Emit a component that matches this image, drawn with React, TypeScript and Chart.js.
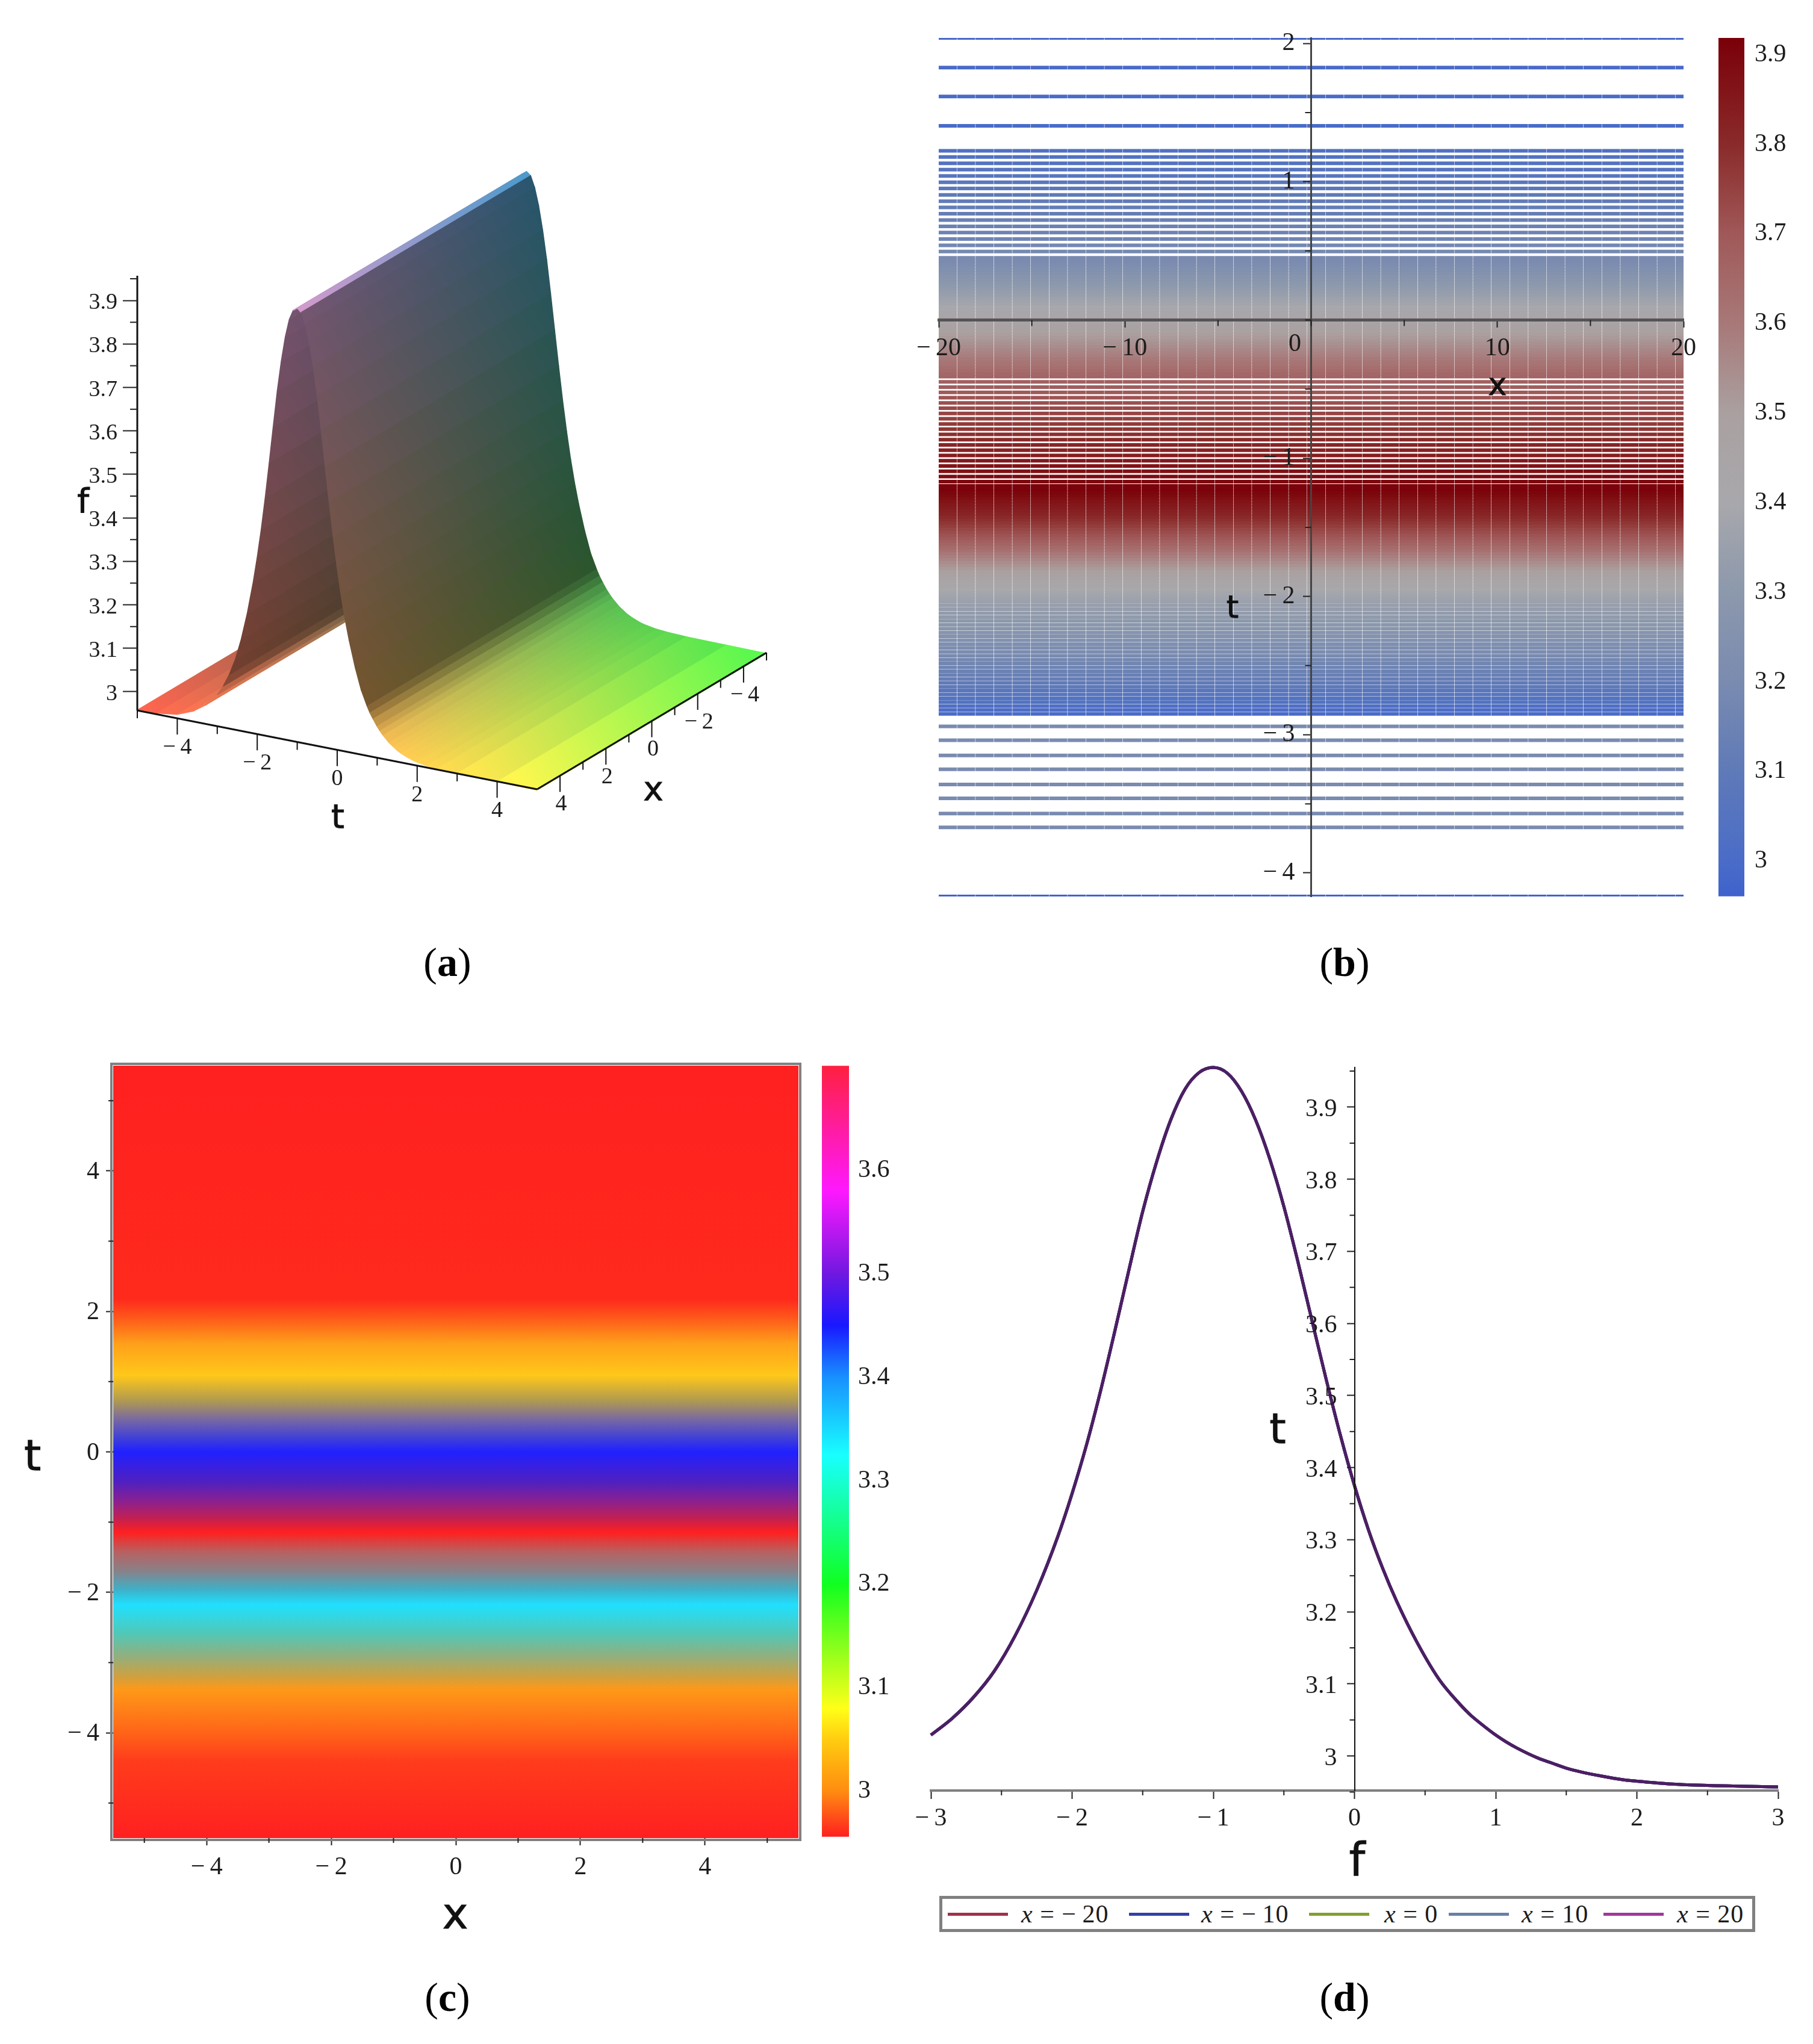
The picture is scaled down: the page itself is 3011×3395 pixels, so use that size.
import { useEffect, useRef } from 'react';
import { Chart, registerables } from 'chart.js';

Chart.register(...registerables);

// profile of the wave (d) and the ridge in panel (a)
const profileT = [-5, -4.5, -4, -3.6, -3.3, -3, -2.85, -2.7, -2.55, -2.4, -2.25, -2.1, -2, -1.9, -1.8, -1.7, -1.6, -1.5, -1.4, -1.3, -1.2, -1.1, -1, -0.9, -0.8, -0.7, -0.6, -0.5, -0.4, -0.3, -0.2, -0.1, 0, 0.1, 0.2, 0.3, 0.45, 0.6, 0.75, 0.82, 0.9, 1, 1.07, 1.15, 1.3, 1.4, 1.5, 1.6, 1.75, 1.9, 2, 2.25, 2.5, 3, 4, 5];
const profileF = [2.958, 2.96, 2.966, 2.981, 3.0, 3.029, 3.052, 3.081, 3.118, 3.168, 3.23, 3.305, 3.364, 3.43, 3.505, 3.587, 3.672, 3.755, 3.825, 3.883, 3.925, 3.948, 3.955, 3.947, 3.922, 3.882, 3.828, 3.762, 3.685, 3.603, 3.522, 3.445, 3.375, 3.313, 3.26, 3.214, 3.155, 3.106, 3.071, 3.057, 3.044, 3.029, 3.02, 3.011, 2.997, 2.99, 2.983, 2.978, 2.972, 2.967, 2.965, 2.961, 2.959, 2.957, 2.956, 2.955];

// panel (a)
const surfaceX = [5, -5];
const fTicks = [3, 3.1, 3.2, 3.3, 3.4, 3.5, 3.6, 3.7, 3.8, 3.9];
const fMinorTicks = [3.05, 3.15, 3.25, 3.35, 3.45, 3.55, 3.65, 3.75, 3.85, 3.95];
const groundTicks = [-4, -2, 0, 2, 4];
const groundMinorTicks = [-5, -3, -1, 1, 3];

// panel (b): t of every contour line, from the top of the plot down
const contourT = [
  2.04, 1.825, 1.617, 1.404,
  1.224, 1.179, 1.133, 1.087, 1.042, 0.996, 0.951, 0.905, 0.859, 0.814, 0.768, 0.723, 0.677, 0.632, 0.586, 0.54, 0.495, 0.449,
  0.425, 0.403, 0.381, 0.359, 0.337, 0.315, 0.293, 0.271, 0.249, 0.227, 0.205, 0.183, 0.161, 0.139, 0.117, 0.095, 0.073, 0.051, 0.029, 0.007,
  -0.015, -0.037, -0.059, -0.081, -0.103, -0.125, -0.147, -0.169, -0.191, -0.213, -0.235, -0.257, -0.279, -0.301, -0.323, -0.345, -0.367, -0.389,
  -0.41, -0.448, -0.486, -0.524, -0.562, -0.6, -0.638, -0.676, -0.714, -0.752, -0.79, -0.828, -0.866, -0.904, -0.942, -0.98, -1.018, -1.056, -1.094, -1.132, -1.17, -1.2,
  -1.225, -1.247, -1.269, -1.291, -1.313, -1.335, -1.357, -1.379, -1.401, -1.423, -1.445, -1.467, -1.489, -1.511, -1.533, -1.555, -1.577, -1.599, -1.621,
  -1.643, -1.665, -1.687, -1.709, -1.731, -1.753, -1.775, -1.797, -1.819, -1.841, -1.863, -1.885, -1.907, -1.929, -1.951, -1.973, -1.995, -2.017, -2.039,
  -2.065, -2.093, -2.121, -2.149, -2.177, -2.205, -2.233, -2.261, -2.289, -2.317, -2.345, -2.373, -2.401, -2.429, -2.457, -2.485, -2.513, -2.541, -2.569, -2.597, -2.625, -2.653, -2.681, -2.709, -2.737, -2.765, -2.793, -2.821, -2.849,
  -2.94, -3.04, -3.15, -3.25, -3.36, -3.46, -3.57, -3.67, -4.17,
];
const contourBandT = [2.04, 1.4, 1.2, 0.43, 0, -0.4, -0.8, -1.22, -1.4, -1.6, -1.75, -2, -2.3, -2.6, -2.85, -2.94, -3.67, -4.17];
const contourBandF = [2.99, 3.0, 3.03, 3.2, 3.45, 3.66, 3.78, 3.915, 3.82, 3.68, 3.55, 3.37, 3.25, 3.12, 3.0, 3.2, 3.2, 2.97];
const bXTicks = [-20, -10, 10, 20];
const bXMinorTicks = [-15, -5, 0, 5, 15];
const bYTicks = [2, 1, -1, -2, -3, -4];
const bYMinorTicks = [1.5, 0.5, 0, -0.5, -1.5, -2.5, -3.5];
const barBTicks = [3, 3.1, 3.2, 3.3, 3.4, 3.5, 3.6, 3.7, 3.8, 3.9];
const barBValues = [2.9606, 3, 3.1, 3.2, 3.3, 3.4, 3.5, 3.6, 3.7, 3.8, 3.9186];
const barBColors = ['#3e62cc', '#4a6cc8', '#5f7ab8', '#7a8bb0', '#8c98ac', '#a8a8ac', '#aaa0a0', '#a87878', '#a05858', '#8a2a2a', '#7a0008'];

// panel (c)
const heatT = [5.5, 2.17, 1.9, 1.54, 1.09, 0.73, 0.47, 0.2, 0, -0.43, -0.7, -0.97, -1.15, -1.42, -1.69, -1.96, -2.18, -2.58, -2.9, -3.2, -3.39, -3.93, -4.4, -5.5];
const heatColors = ['#ff2020', '#ff2a1c', '#ff5a1a', '#ffa01a', '#ffc81a', '#b09a50', '#7a6aa0', '#4040d8', '#2020ff', '#5020c0', '#8a2090', '#c8204c', '#ff2020', '#b86060', '#8a8088', '#3fb0c8', '#20e0ff', '#50c8b8', '#90b080', '#d0a040', '#ff9818', '#ff6a18', '#ff3c1c', '#ff2020'];
const cTicks = [-4, -2, 0, 2, 4];
const cMinorTicks = [-5, -3, -1, 1, 3, 5];
const barCTicks = [3, 3.1, 3.2, 3.3, 3.4, 3.5, 3.6];
const barCValues = [2.956, 3, 3.05, 3.08, 3.2, 3.325, 3.4, 3.45, 3.5, 3.58, 3.701];
const barCColors = ['#ff2020', '#ff8c10', '#ffcc10', '#ffff18', '#10ff20', '#18ffff', '#1890ff', '#1818ff', '#7018e0', '#ff18ff', '#ff2040'];

// panel (d)
const seriesLabels = ['\u2212\u200920', '\u2212\u200910', '0', '10', '20'];
const seriesColors = ['#a03048', '#3040a8', '#80a030', '#6880a8', '#a03898'];
const dXTicks = [-3, -2, -1, 0, 1, 2, 3];
const dXMinorTicks = [-2.5, -1.5, -0.5, 0.5, 1.5, 2.5];
const dYTicks = [3, 3.1, 3.2, 3.3, 3.4, 3.5, 3.6, 3.7, 3.8, 3.9];
const dYMinorTicks = [2.95, 3.05, 3.15, 3.25, 3.35, 3.45, 3.55, 3.65, 3.75, 3.85, 3.95];

const SERIF = 'Liberation Serif';
const SANS = 'DejaVu Sans';
const INK = '#1c1c1c';

const hexToRgb = (hex: string) => [1, 3, 5].map((i) => parseInt(hex.slice(i, i + 2), 16));

function lookup(v: number, xs: number[], ys: number[]) {
  const asc = xs[xs.length - 1] > xs[0];
  for (let i = 0; i < xs.length - 1; i++) {
    const a = xs[i];
    const b = xs[i + 1];
    if (asc ? v <= b : v >= b) return ys[i] + ((v - a) / (b - a)) * (ys[i + 1] - ys[i]);
  }
  return ys[ys.length - 1];
}

function barColor(f: number, values: number[], colors: string[]) {
  const rgb = colors.map(hexToRgb);
  const c = [0, 1, 2].map((k) => Math.round(lookup(f, values, rgb.map((p) => p[k]))));
  return `rgb(${c[0]}, ${c[1]}, ${c[2]})`;
}

// scriptable colours get called once before the layout exists
function makeGradient(chart: any, x0: number, y0: number, x1: number, y1: number) {
  if (!chart.chartArea || ![x0, y0, x1, y1].every(Number.isFinite)) return null;
  return chart.ctx.createLinearGradient(x0, y0, x1, y1);
}

const tickLabel = (v: number) => (v < 0 ? `\u2212\u2009${-v}` : String(v));

function axis(o: {
  min: number;
  max: number;
  ticks: number[];
  position: any;
  size: number;
  padding?: number;
  labelGap?: number;
  labelDrop?: number;
  tickLength: number;
  borderColor?: string;
  borderWidth?: number;
  showBorder?: boolean;
}) {
  return {
    type: 'linear',
    min: o.min,
    max: o.max,
    position: o.position,
    afterBuildTicks: (scale: any) => {
      scale.ticks = o.ticks.map((value) => ({ value }));
    },
    // a y axis placed at a data value ignores ticks.padding, so move its labels by hand
    afterUpdate: (scale: any) => {
      if (!o.labelGap || scale.labelsMoved) return;
      scale.labelsMoved = true;
      const compute = scale._computeLabelItems;
      scale._computeLabelItems = function (area: any) {
        const items = compute.call(this, area);
        items.forEach((item: any) => {
          item.options.translation[0] -= o.labelGap;
          item.options.translation[1] += o.labelDrop ?? 0;
        });
        return items;
      };
    },
    ticks: {
      z: 1,
      autoSkip: false,
      maxRotation: 0,
      minRotation: 0,
      padding: o.padding ?? 0,
      color: INK,
      font: { family: SERIF, size: o.size },
      callback: (v: any) => tickLabel(Number(v)),
    },
    grid: { z: 1, drawOnChartArea: false, drawTicks: true, tickLength: o.tickLength, tickColor: '#222', tickWidth: 2 },
    border: { z: 1, display: o.showBorder !== false, color: o.borderColor ?? '#111', width: o.borderWidth ?? 2 },
  };
}

// short unlabelled ticks between the labelled ones
function minorTicks(o: { xValues?: number[]; yValues?: number[]; xAt?: number; yAt?: number; length: number }) {
  return {
    id: 'minorTicks',
    afterDraw(chart: any) {
      const { ctx, scales } = chart;
      ctx.save();
      ctx.strokeStyle = '#222';
      ctx.lineWidth = 2;
      ctx.beginPath();
      (o.xValues ?? []).forEach((v) => {
        const px = scales.x.getPixelForValue(v);
        const py = scales.y.getPixelForValue(o.yAt);
        ctx.moveTo(px, py);
        ctx.lineTo(px, py + o.length);
      });
      (o.yValues ?? []).forEach((v) => {
        const py = scales.y.getPixelForValue(v);
        const px = scales.x.getPixelForValue(o.xAt);
        ctx.moveTo(px, py);
        ctx.lineTo(px - o.length, py);
      });
      ctx.stroke();
      ctx.restore();
    },
  };
}

const baseOptions = {
  responsive: false,
  animation: false,
  devicePixelRatio: 1,
  events: [],
};
const quietPlugins = { legend: { display: false }, tooltip: { enabled: false } };

// ---- panel (a): parallel projection of the surface on a screen-unit x scale and an f scale
const T_PX = 66.4;
const T_DROP = 13.1 / 722;
const X_PX = 38.1;
const X_RISE = 22.7 / 722;
const project = (t: number, x: number, f: number) => ({
  x: (t + 5) * T_PX + (5 - x) * X_PX,
  y: f - (t + 5) * T_DROP + (5 - x) * X_RISE,
});
const F_BASE = 2.957;

function surfaceColor(x: number, t: number, f: number, slope: number) {
  const shade = 0.45 + 0.55 * Math.exp(-((slope / 0.17) ** 4));
  const r = 0.36 + 0.64 * ((x + 5) / 10);
  const g = 0.38 + 0.62 * ((t + 5) / 10) + 0.1 * (f - F_BASE);
  const b = 0.31 + 0.66 * (f - F_BASE);
  const c = [r, g, b].map((v) => Math.round(255 * Math.min(1, v * shade)));
  return `rgb(${c[0]}, ${c[1]}, ${c[2]})`;
}

const stripSlope = (i: number) => {
  if (i < 0 || i >= profileT.length - 1) return 0;
  return Math.abs((profileF[i + 1] - profileF[i]) / (profileT[i + 1] - profileT[i]));
};

function surfaceConfig(): any {
  const strips = profileT.slice(0, -1).map((t, i) => {
    const t2 = profileT[i + 1];
    const f1 = profileF[i];
    const f2 = profileF[i + 1];
    const midT = (t + t2) / 2;
    const midF = (f1 + f2) / 2;
    // averaged with the neighbours so the shading does not step from strip to strip
    const slope = (stripSlope(i - 1) + stripSlope(i) + stripSlope(i + 1)) / 3;
    const paint = (ctx: any) => {
      const { chart } = ctx;
      const sx = chart.scales.x;
      const sy = chart.scales.y;
      const a = project(midT, surfaceX[0], midF);
      const b = project(midT, surfaceX[1], midF);
      const near = surfaceColor(surfaceX[0], midT, midF, slope);
      const g = makeGradient(
        chart,
        sx.getPixelForValue(a.x), sy.getPixelForValue(a.y),
        sx.getPixelForValue(b.x), sy.getPixelForValue(b.y),
      );
      if (!g) return near;
      g.addColorStop(0, near);
      g.addColorStop(1, surfaceColor(surfaceX[1], midT, midF, slope));
      return g;
    };
    return {
      data: [
        project(t, surfaceX[0], f1),
        project(t2, surfaceX[0], f2),
        project(t2, surfaceX[1], f2),
        project(t, surfaceX[1], f1),
        project(t, surfaceX[0], f1),
      ],
      fill: 'shape',
      backgroundColor: paint,
      borderColor: paint,
      borderWidth: 1.5,
      pointRadius: 0,
    };
  });
  const segment = (a: any, b: any, width = 2) => ({
    data: [a, b],
    borderColor: '#111',
    borderWidth: width,
    pointRadius: 0,
    fill: false,
  });
  const MAJOR = 27 / 722;
  const MINOR = 13 / 722;
  const drop = (p: any, d: number) => ({ x: p.x, y: p.y - d });
  const marks: any[] = [
    segment(project(-5, 5, F_BASE), project(5, 5, F_BASE), 3),
    segment(project(5, 5, F_BASE), project(5, -5, F_BASE), 3),
    segment({ x: 0, y: F_BASE }, { x: 0, y: 3.957 }, 3),
  ];
  groundTicks.forEach((v) => {
    marks.push(segment(project(v, 5, F_BASE), drop(project(v, 5, F_BASE), MAJOR)));
    marks.push(segment(project(5, v, F_BASE), drop(project(5, v, F_BASE), MAJOR)));
  });
  groundMinorTicks.forEach((v) => {
    marks.push(segment(project(v, 5, F_BASE), drop(project(v, 5, F_BASE), MINOR)));
    marks.push(segment(project(5, v, F_BASE), drop(project(5, v, F_BASE), MINOR)));
  });
  const groundLabels = {
    id: 'groundLabels',
    afterDraw(chart: any) {
      const { ctx, scales } = chart;
      ctx.save();
      ctx.font = `38px "${SERIF}"`;
      ctx.fillStyle = INK;
      ctx.textAlign = 'center';
      ctx.textBaseline = 'middle';
      groundTicks.forEach((v) => {
        const p = project(v, 5, F_BASE);
        ctx.fillText(tickLabel(v), scales.x.getPixelForValue(p.x), scales.y.getPixelForValue(p.y) + 49);
        const q = project(5, v, F_BASE);
        ctx.fillText(tickLabel(v), scales.x.getPixelForValue(q.x) + 2, scales.y.getPixelForValue(q.y) + 48);
      });
      ctx.restore();
    },
  };
  return {
    type: 'line',
    // chart.js paints the first dataset last, so nearest strips come first
    data: { datasets: [...marks, ...strips.reverse()] },
    options: {
      ...baseOptions,
      layout: { padding: { top: 50, bottom: 50, left: 0, right: 0 } },
      plugins: quietPlugins,
      scales: {
        x: { type: 'linear', display: false, min: -108, max: 1092 },
        y: axis({ min: 2.6523, max: 4.2451, ticks: fTicks, position: { x: 0 }, size: 38, labelGap: 33, labelDrop: 4, tickLength: 24, showBorder: false }),
      },
    },
    plugins: [groundLabels, minorTicks({ yValues: fMinorTicks, xAt: 0, length: 12 })],
  };
}

// ---- panel (b)
function contourConfig(): any {
  const datasets = contourT.map((t) => ({
    data: [{ x: -20, y: t }, { x: 20, y: t }],
    borderColor: barColor(lookup(t, contourBandT, contourBandF), barBValues, barBColors),
    borderWidth: 6,
    borderDash: [30, 0.6],
    pointRadius: 0,
    fill: false,
  }));
  return {
    type: 'line',
    data: { datasets },
    options: {
      ...baseOptions,
      layout: { padding: { left: 59, right: 44, top: 33, bottom: 41 } },
      plugins: quietPlugins,
      scales: {
        x: axis({ min: -20, max: 20, ticks: bXTicks, position: { y: 0 }, size: 42, padding: 12, tickLength: 10, borderColor: '#555', borderWidth: 5 }),
        y: axis({ min: -4.17, max: 2.04, ticks: bYTicks, position: { x: 0 }, size: 42, labelGap: 27, tickLength: 12, borderColor: '#444', borderWidth: 3 }),
      },
    },
    plugins: [minorTicks({ xValues: bXMinorTicks, yAt: 0, yValues: bYMinorTicks, xAt: 0, length: 10 })],
  };
}

// ---- colour bars: one floating bar painted with the colour scale
function colorBarConfig(o: { ticks: number[]; values: number[]; colors: string[]; labelWidth: number; padding: number; size: number; top: number; bottom: number }): any {
  const min = o.values[0];
  const max = o.values[o.values.length - 1];
  return {
    type: 'bar',
    data: {
      labels: [''],
      datasets: [{
        data: [[min, max]],
        barPercentage: 1,
        categoryPercentage: 1,
        backgroundColor: (ctx: any) => {
          const { chart } = ctx;
          const y = chart.scales.y;
          const g = makeGradient(chart, 0, y.getPixelForValue(min), 0, y.getPixelForValue(max));
          if (!g) return o.colors[0];
          o.values.forEach((v, i) => g.addColorStop((v - min) / (max - min), o.colors[i]));
          return g;
        },
      }],
    },
    options: {
      ...baseOptions,
      layout: { padding: { top: o.top, bottom: o.bottom, left: 0, right: 0 } },
      plugins: quietPlugins,
      scales: {
        x: { display: false },
        y: {
          type: 'linear',
          min,
          max,
          position: 'right',
          afterBuildTicks: (scale: any) => {
            scale.ticks = o.ticks.map((value) => ({ value }));
          },
          afterFit: (scale: any) => {
            scale.width = o.labelWidth;
          },
          border: { display: false },
          grid: { display: false, drawTicks: false },
          ticks: {
            autoSkip: false,
            padding: o.padding,
            color: INK,
            font: { family: SERIF, size: o.size },
            callback: (v: any) => String(v),
          },
        },
      },
    },
  };
}

// ---- panel (c)
function heatConfig(): any {
  const frame = {
    id: 'frame',
    afterDraw(chart: any) {
      const { ctx, chartArea: a } = chart;
      ctx.save();
      ctx.strokeStyle = '#808080';
      ctx.lineWidth = 4;
      ctx.strokeRect(a.left - 3, a.top - 3, a.width + 6, a.height + 6);
      ctx.restore();
    },
  };
  return {
    type: 'line',
    data: {
      datasets: [{
        data: [{ x: -5.5, y: 5.5 }, { x: 5.5, y: 5.5 }],
        borderWidth: 0,
        pointRadius: 0,
        fill: { value: -5.5 },
        backgroundColor: (ctx: any) => {
          const { chart } = ctx;
          const y = chart.scales.y;
          const g = makeGradient(chart, 0, y.getPixelForValue(5.5), 0, y.getPixelForValue(-5.5));
          if (!g) return heatColors[0];
          heatT.forEach((t, i) => g.addColorStop((5.5 - t) / 11, heatColors[i]));
          return g;
        },
      }],
    },
    options: {
      ...baseOptions,
      layout: { padding: { left: 188, right: 24, top: 50, bottom: 97 } },
      plugins: quietPlugins,
      scales: {
        x: axis({ min: -5.5, max: 5.5, ticks: cTicks, position: { y: -5.5 }, size: 42, padding: 12, tickLength: 12, showBorder: false }),
        y: axis({ min: -5.5, max: 5.5, ticks: cTicks, position: { x: -5.5 }, size: 42, labelGap: 23, labelDrop: 2, tickLength: 12, showBorder: false }),
      },
    },
    plugins: [frame, minorTicks({ xValues: cMinorTicks, yAt: -5.5, yValues: cMinorTicks, xAt: -5.5, length: 8 })],
  };
}

// ---- panel (d)
function profileConfig(): any {
  const points = profileT
    .map((t, i) => ({ x: t, y: profileF[i] }))
    .filter((p) => p.x >= -3 && p.x <= 3);
  const datasets = seriesColors.map((color, i) => ({
    label: `x = ${seriesLabels[i]}`,
    data: points,
    // the five curves coincide; the stack reads as one dark purple line
    borderColor: i === 0 ? '#4d1e64' : color,
    borderWidth: 5,
    pointRadius: 0,
    fill: false,
    cubicInterpolationMode: 'monotone',
    clip: false,
  }));
  return {
    type: 'line',
    data: { datasets },
    options: {
      ...baseOptions,
      layout: { padding: { left: 46, right: 58, top: 33, bottom: 96 } },
      plugins: quietPlugins,
      scales: {
        x: axis({ min: -3, max: 3, ticks: dXTicks, position: { y: 2.952 }, size: 42, padding: 10, tickLength: 12, borderColor: '#808080', borderWidth: 4 }),
        y: axis({ min: 2.952, max: 3.955, ticks: dYTicks, position: { x: 0 }, size: 42, labelGap: 29, labelDrop: 4, tickLength: 12 }),
      },
    },
    plugins: [minorTicks({ xValues: dXMinorTicks, yAt: 2.952, yValues: dYMinorTicks, xAt: 0, length: 8 })],
  };
}

function ChartCanvas({ left, top, width, height, config }: { left: number; top: number; width: number; height: number; config: () => any }) {
  const ref = useRef<HTMLCanvasElement>(null);
  useEffect(() => {
    if (!ref.current) return;
    const chart = new Chart(ref.current, config());
    return () => chart.destroy();
  }, []);
  return <canvas ref={ref} width={width} height={height} style={{ position: 'absolute', left, top, width, height, display: 'block' }} />;
}

function Title({ x, y, size, children }: { x: number; y: number; size: number; children: string }) {
  return (
    <div style={{ position: 'absolute', left: x, top: y, transform: 'translate(-50%, -50%)', font: `${size}px "${SANS}"`, color: '#111', lineHeight: 1, WebkitTextStroke: '1px #111' }}>
      {children}
    </div>
  );
}

function Caption({ x, y, letter }: { x: number; y: number; letter: string }) {
  return (
    <div style={{ position: 'absolute', left: x, top: y, transform: 'translate(-50%, -50%)', font: `68px "${SERIF}"`, color: '#000', lineHeight: 1 }}>
      (<b>{letter}</b>)
    </div>
  );
}

const legendSwatchLeft = [1574, 1875, 2174, 2406, 2663];
const legendTextLeft = [1696, 1995, 2299, 2527, 2785];

function Legend() {
  return (
    <>
      <div style={{ position: 'absolute', left: 1560, top: 3149, width: 1345, height: 50, border: '5px solid #808080' }} />
      {seriesLabels.map((label, i) => (
        <div key={label}>
          <div style={{ position: 'absolute', left: legendSwatchLeft[i], top: 3177, width: 100, height: 5, background: seriesColors[i] }} />
          <div style={{ position: 'absolute', left: legendTextLeft[i], top: 3156, font: `42px "${SERIF}"`, letterSpacing: 1, color: INK, whiteSpace: 'pre', lineHeight: '46px' }}>
            <i>x</i> = {label}
          </div>
        </div>
      ))}
    </>
  );
}

export default function App() {
  return (
    <div style={{ position: 'absolute', left: 0, top: 0, width: 3011, height: 3395, overflow: 'hidden', background: '#fff' }}>
      <ChartCanvas left={120} top={200} width={1200} height={1250} config={surfaceConfig} />
      <Title x={138} y={832} size={56}>f</Title>
      <Title x={561} y={1356} size={56}>t</Title>
      <Title x={1085} y={1310} size={56}>x</Title>
      <Caption x={743} y={1598} letter="a" />

      <ChartCanvas left={1500} top={30} width={1340} height={1500} config={contourConfig} />
      <ChartCanvas
        left={2854}
        top={20}
        width={130}
        height={1511}
        config={() => colorBarConfig({ ticks: barBTicks, values: barBValues, colors: barBColors, labelWidth: 87, padding: 17, size: 42, top: 43, bottom: 40 })}
      />
      <div style={{ position: 'absolute', left: 2140, top: 548, font: `42px "${SERIF}"`, color: INK, lineHeight: 1 }}>0</div>
      <Title x={2487} y={638} size={52}>x</Title>
      <Title x={2047} y={1008} size={52}>t</Title>
      <Caption x={2233} y={1598} letter="b" />

      <ChartCanvas left={0} top={1720} width={1350} height={1430} config={heatConfig} />
      <ChartCanvas
        left={1365}
        top={1730}
        width={130}
        height={1361}
        config={() => colorBarConfig({ ticks: barCTicks, values: barCValues, colors: barCColors, labelWidth: 85, padding: 15, size: 42, top: 39, bottom: 40 })}
      />
      <Title x={54} y={2417} size={72}>t</Title>
      <Title x={756} y={3178} size={72}>x</Title>
      <Caption x={743} y={3317} letter="c" />

      <ChartCanvas left={1500} top={1740} width={1511} height={1330} config={profileConfig} />
      <Title x={2122} y={2373} size={70}>t</Title>
      <Title x={2254} y={3089} size={76}>f</Title>
      <Legend />
      <Caption x={2233} y={3317} letter="d" />
    </div>
  );
}
